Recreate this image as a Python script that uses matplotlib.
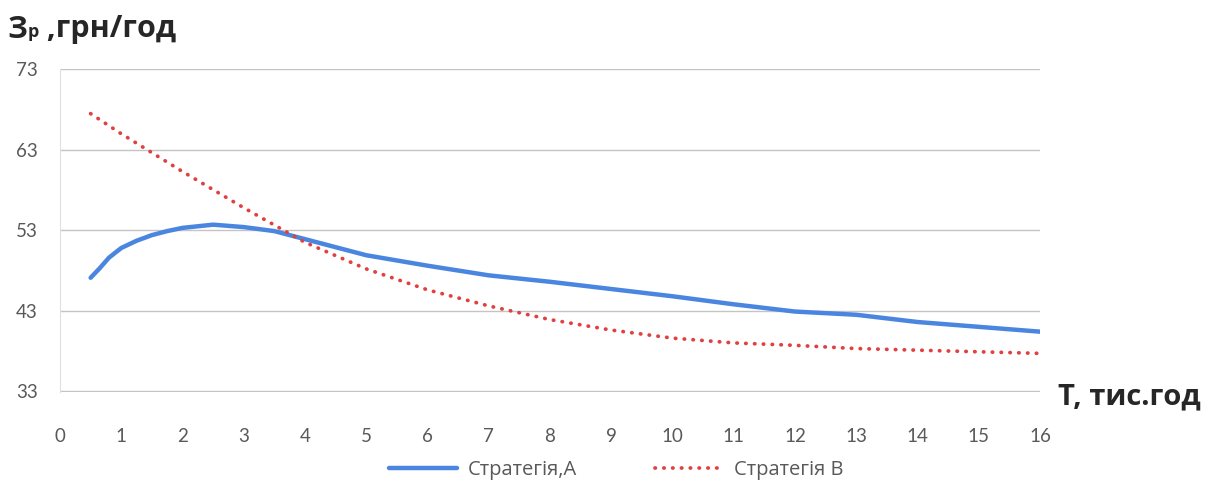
import matplotlib.pyplot as plt
import numpy as np

# Стратегія A
t_a = [0.5, 0.65, 0.8, 1, 1.25, 1.5, 1.75, 2, 2.5, 3, 3.5, 4, 4.5, 5, 6, 7, 8, 9, 10, 11, 12, 13, 14, 15, 16]
z_a = [47.1, 48.3, 49.6, 50.8, 51.7, 52.4, 52.9, 53.3, 53.7, 53.4, 52.9, 51.9, 50.9, 49.9,
       48.6, 47.4, 46.6, 45.7, 44.8, 43.8, 42.9, 42.5, 41.6, 41.0, 40.4]

# Стратегія B
t_b = [0.5, 1, 2, 3, 4, 5, 6, 7, 8, 9, 10, 11, 12, 13, 14, 15, 16]
z_b = [67.5, 65.0, 60.3, 55.8, 51.5, 48.2, 45.6, 43.6, 41.9, 40.6, 39.6, 39.0, 38.7,
       38.3, 38.1, 37.9, 37.7]

x_ticks = list(range(0, 17))
y_ticks = [33, 43, 53, 63, 73]

grey = '#595959'

fig = plt.figure(figsize=(12.13, 4.87), dpi=100)
ax = fig.add_axes([60/1213, 1-392/487, 980/1213, 323/487])

ax.plot(t_a, z_a, color='#4a86e0', lw=3.2, solid_capstyle='round', solid_joinstyle='round',
        label='Стратегія,A')
ax.plot(t_b, z_b, color='#e04040', lw=2.7, linestyle=(0, (0.1, 2.25)),
        dash_capstyle='round', label='Стратегія B')

ax.set_xlim(0, 16)
ax.set_ylim(32.9, 73.05)
ax.set_xticks(x_ticks)
ax.set_yticks(y_ticks)
ax.grid(axis='y', color='#c4c4c4', lw=1)
ax.set_axisbelow(True)
for s in ['top', 'right', 'bottom']:
    ax.spines[s].set_visible(False)
ax.spines['left'].set_color('#e0e0e0')
ax.tick_params(length=0, labelsize=13.5, labelcolor=grey)
ax.tick_params(axis='x', pad=26)
ax.tick_params(axis='y', pad=16)
for lab in ax.get_xticklabels() + ax.get_yticklabels():
    lab.set_family('Lato')

# підпис осі Y з нижнім індексом
t1 = fig.text(8/1213, 1-30/487, 'З', fontsize=22, fontweight='bold', family='Open Sans',
              color='#262626', va='center')
a1 = ax.annotate('р', xy=(1, 0.12), xycoords=t1, fontsize=13, fontweight='bold',
                 family='Open Sans', color='#262626', va='bottom', annotation_clip=False)
a2 = ax.annotate(' ,грн/год', xy=(1, -0.12), xycoords=a1, fontsize=22, fontweight='bold',
                 family='Open Sans', color='#262626', va='bottom', annotation_clip=False)

fig.text(1058/1213, 1-397/487, 'T, тис.год', fontsize=21, fontweight='bold',
         family='Open Sans', color='#262626', va='center')

leg = fig.legend(loc='center', bbox_to_anchor=(0.508, 1-470/487), ncol=2, frameon=False,
                 prop={'family': 'Open Sans', 'size': 14.5}, handlelength=3.4,
                 columnspacing=3.9, handletextpad=0.5)
for txt in leg.get_texts():
    txt.set_color(grey)

fig.savefig('out.png', dpi=100)
